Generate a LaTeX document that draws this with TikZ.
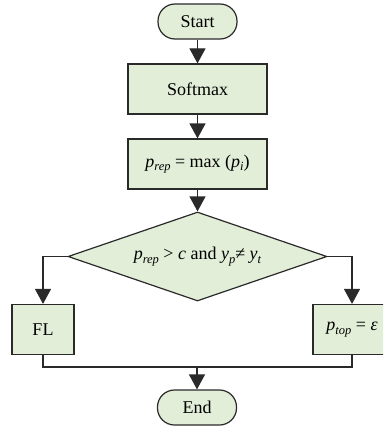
\documentclass[tikz,border=0pt]{standalone}
\usepackage{fontspec}
\setmainfont{Liberation Serif}
\usetikzlibrary{shapes.geometric,arrows.meta,calc}
\definecolor{boxfill}{HTML}{E2EED8}
\definecolor{boxline}{HTML}{2A2A2A}
\newcommand{\sbs}[1]{\raisebox{-0.45ex}{\fontsize{12.5}{12.5}\selectfont\itshape #1}}
\begin{document}
\begin{tikzpicture}[x=1pt,y=-1pt,
  every node/.style={font=\fontsize{18}{21}\selectfont, text=black},
  flowbox/.style={draw=boxline, fill=boxfill, line width=1.2pt, rectangle, inner sep=0pt},
  term/.style={flowbox, rounded corners=17pt, minimum width=79pt, minimum height=35pt},
  proc/.style={flowbox, minimum width=139pt, minimum height=50pt},
  decide/.style={draw=boxline, fill=boxfill, line width=1.2pt, diamond, aspect=2.9, minimum width=259pt, minimum height=89pt, inner sep=0pt},
  conn/.style={draw=boxline, line width=1.2pt},
  arr/.style={conn, -{Triangle[width=16pt,length=15pt]}}
]
\clip (0,0) rectangle (383,428);
\fill[white] (0,0) rectangle (383,428);
\node[term] (start) at (197.5,21.5) {Start};
\node[proc] (soft) at (197.5,89) {Softmax};
\node[proc] (prep) at (197.5,164) {{\itshape p}\sbs{rep} = max ({\itshape p}\sbs{i})};
\node[decide] (dec) at (197.5,256.5) {{\itshape p}\sbs{rep} {>} {\itshape c} and {\itshape y}\sbs{p}{≠} {\itshape y}\sbs{t}};
\node[flowbox, minimum width=62pt, minimum height=50pt] (fl) at (43,329.5) {FL};
\node[flowbox, minimum width=78pt, minimum height=50pt] (ptop) at (352,329.5) {{\itshape p}\sbs{top} = {\itshape ε}};
\node[term] (end) at (197,407.5) {End};
\coordinate (lb) at (43,256.5);
\coordinate (rb) at (352,256.5);
\coordinate (jl) at (43,367);
\coordinate (jr) at (352,367);
\coordinate (jm) at (197,367);
\draw[arr] (start) -- (soft);
\draw[arr] (soft) -- (prep);
\draw[arr] (prep) -- (dec.north);
\draw[arr] (dec.west) -- (lb) -- (fl.north);
\draw[arr] (dec.east) -- (rb) -- (ptop.north);
\draw[conn] (fl.south) -- (jl) -- (jr) -- (ptop.south);
\draw[arr] (jm) -- (end.north);
\end{tikzpicture}
\end{document}
